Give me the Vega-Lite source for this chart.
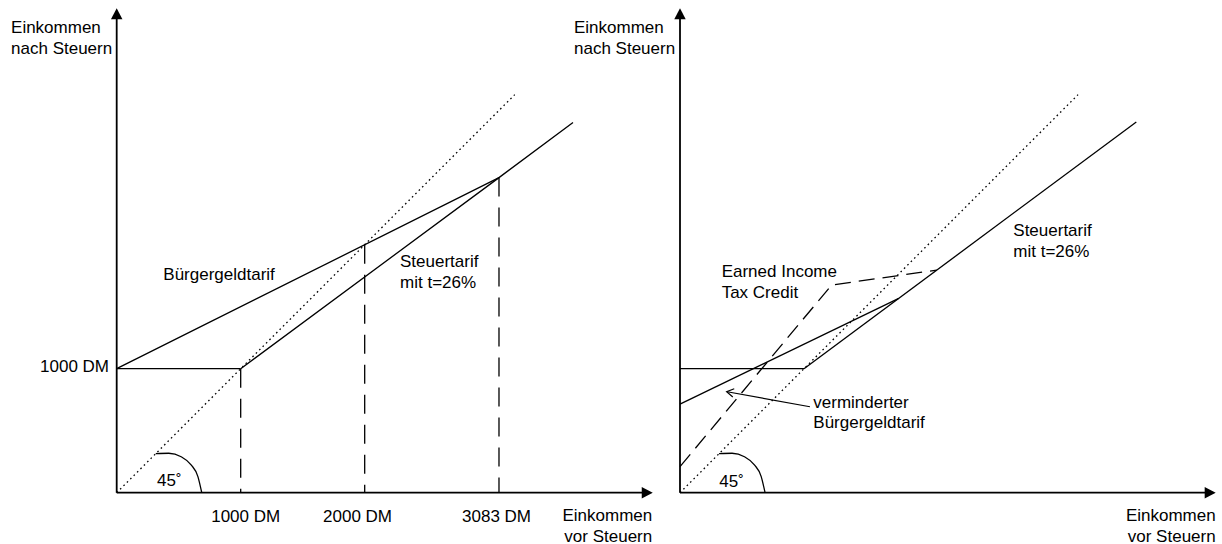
{
  "$schema": "https://vega.github.io/schema/vega-lite/v6.json",
  "padding": 0,
  "spacing": 0,
  "bounds": "flush",
  "background": "white",
  "config": {"view": {"stroke": null}},
  "datasets": {
    "segs": [
      {"panel": "L", "id": "L_ax", "style": "axis", "ord": 0, "x": 0, "y": 0},
      {"panel": "L", "id": "L_ax", "style": "axis", "ord": 1, "x": 4300, "y": 0},
      {"panel": "L", "id": "L_ay", "style": "axis", "ord": 0, "x": 0, "y": 0},
      {"panel": "L", "id": "L_ay", "style": "axis", "ord": 1, "x": 0, "y": 3880},
      {"panel": "L", "id": "L_h", "style": "solid", "ord": 0, "x": 0, "y": 1000},
      {"panel": "L", "id": "L_h", "style": "solid", "ord": 1, "x": 1000, "y": 1000},
      {"panel": "L", "id": "L_bg", "style": "solid", "ord": 0, "x": 0, "y": 1000},
      {"panel": "L", "id": "L_bg", "style": "solid", "ord": 1, "x": 3083, "y": 2541},
      {"panel": "L", "id": "L_st", "style": "solid", "ord": 0, "x": 1000, "y": 1000},
      {"panel": "L", "id": "L_st", "style": "solid", "ord": 1, "x": 3083, "y": 2541},
      {"panel": "L", "id": "L_st", "style": "solid", "ord": 2, "x": 3680, "y": 2985},
      {"panel": "L", "id": "L_45", "style": "dotted", "ord": 0, "x": 0, "y": 0},
      {"panel": "L", "id": "L_45", "style": "dotted", "ord": 1, "x": 3210, "y": 3210},
      {"panel": "L", "id": "L_v1", "style": "dashed", "ord": 0, "x": 1000, "y": 1000},
      {"panel": "L", "id": "L_v1", "style": "dashed", "ord": 1, "x": 1000, "y": 0},
      {"panel": "L", "id": "L_v2", "style": "dashed", "ord": 0, "x": 2000, "y": 2000},
      {"panel": "L", "id": "L_v2", "style": "dashed", "ord": 1, "x": 2000, "y": 0},
      {"panel": "L", "id": "L_v3", "style": "dashed", "ord": 0, "x": 3083, "y": 2541},
      {"panel": "L", "id": "L_v3", "style": "dashed", "ord": 1, "x": 3083, "y": 0},
      {"panel": "L", "id": "L_arc", "style": "arc", "ord": 0, "x": 315, "y": 315},
      {"panel": "L", "id": "L_arc", "style": "arc", "ord": 1, "x": 420, "y": 318},
      {"panel": "L", "id": "L_arc", "style": "arc", "ord": 2, "x": 520, "y": 290},
      {"panel": "L", "id": "L_arc", "style": "arc", "ord": 3, "x": 600, "y": 225},
      {"panel": "L", "id": "L_arc", "style": "arc", "ord": 4, "x": 655, "y": 130},
      {"panel": "L", "id": "L_arc", "style": "arc", "ord": 5, "x": 686, "y": 0},
      {"panel": "R", "id": "R_ax", "style": "axis", "ord": 0, "x": 0, "y": 0},
      {"panel": "R", "id": "R_ax", "style": "axis", "ord": 1, "x": 4300, "y": 0},
      {"panel": "R", "id": "R_ay", "style": "axis", "ord": 0, "x": 0, "y": 0},
      {"panel": "R", "id": "R_ay", "style": "axis", "ord": 1, "x": 0, "y": 3880},
      {"panel": "R", "id": "R_h", "style": "solid", "ord": 0, "x": 0, "y": 1000},
      {"panel": "R", "id": "R_h", "style": "solid", "ord": 1, "x": 1000, "y": 1000},
      {"panel": "R", "id": "R_st", "style": "solid", "ord": 0, "x": 1000, "y": 1000},
      {"panel": "R", "id": "R_st", "style": "solid", "ord": 1, "x": 3680, "y": 2990},
      {"panel": "R", "id": "R_vb", "style": "solid", "ord": 0, "x": 0, "y": 715},
      {"panel": "R", "id": "R_vb", "style": "solid", "ord": 1, "x": 1760, "y": 1565},
      {"panel": "R", "id": "R_arrow", "style": "thin", "ord": 0, "x": 1048, "y": 693},
      {"panel": "R", "id": "R_arrow", "style": "thin", "ord": 1, "x": 380, "y": 814},
      {"panel": "R", "id": "R_45", "style": "dotted", "ord": 0, "x": 0, "y": 0},
      {"panel": "R", "id": "R_45", "style": "dotted", "ord": 1, "x": 3210, "y": 3210},
      {"panel": "R", "id": "R_eitc", "style": "eitc", "ord": 0, "x": 0, "y": 210},
      {"panel": "R", "id": "R_eitc", "style": "eitc", "ord": 1, "x": 1223, "y": 1675},
      {"panel": "R", "id": "R_eitc", "style": "eitc", "ord": 2, "x": 2070, "y": 1795},
      {"panel": "R", "id": "R_arc", "style": "arc", "ord": 0, "x": 315, "y": 315},
      {"panel": "R", "id": "R_arc", "style": "arc", "ord": 1, "x": 420, "y": 318},
      {"panel": "R", "id": "R_arc", "style": "arc", "ord": 2, "x": 520, "y": 290},
      {"panel": "R", "id": "R_arc", "style": "arc", "ord": 3, "x": 600, "y": 225},
      {"panel": "R", "id": "R_arc", "style": "arc", "ord": 4, "x": 655, "y": 130},
      {"panel": "R", "id": "R_arc", "style": "arc", "ord": 5, "x": 686, "y": 0}
    ],
    "heads": [
      {"panel": "L", "kind": "up", "x": 0, "y": 3906},
      {"panel": "L", "kind": "right", "x": 4323, "y": 0},
      {"panel": "R", "kind": "up", "x": 0, "y": 3906},
      {"panel": "R", "kind": "right", "x": 4320, "y": 0},
      {"panel": "R", "kind": "vee", "x": 376, "y": 815}
    ],
    "labels": [
      {"panel": "L", "align": "left", "x": -852, "y": 3705, "text": "Einkommen\nnach Steuern"},
      {"panel": "L", "align": "right", "x": -62, "y": 973, "text": "1000 DM"},
      {"panel": "L", "align": "center", "x": 1040, "y": -234, "text": "1000 DM"},
      {"panel": "L", "align": "center", "x": 1942, "y": -234, "text": "2000 DM"},
      {"panel": "L", "align": "center", "x": 3063, "y": -234, "text": "3083 DM"},
      {"panel": "L", "align": "left", "x": 376, "y": 1715, "text": "Bürgergeldtarif"},
      {"panel": "L", "align": "left", "x": 2285, "y": 1818, "text": "Steuertarif\nmit t=26%"},
      {"panel": "L", "align": "right", "x": 4319, "y": -232, "text": "Einkommen\nvor Steuern"},
      {"panel": "L", "align": "left", "x": 325, "y": 54, "text": "45˚"},
      {"panel": "R", "align": "left", "x": -855, "y": 3705, "text": "Einkommen\nnach Steuern"},
      {"panel": "R", "align": "left", "x": 2688, "y": 2070, "text": "Steuertarif\nmit t=26%"},
      {"panel": "R", "align": "left", "x": 336, "y": 1737, "text": "Earned Income\nTax Credit"},
      {"panel": "R", "align": "left", "x": 1075, "y": 685, "text": "verminderter\nBürgergeldtarif"},
      {"panel": "R", "align": "left", "x": 317, "y": 48, "text": "45˚"},
      {"panel": "R", "align": "right", "x": 4320, "y": -232, "text": "Einkommen\nvor Steuern"}
    ]
  },
  "hconcat": [
    {
      "width": 660,
      "height": 544,
      "encoding": {
        "x": {"field": "x", "type": "quantitative", "scale": {"domain": [-941.1, 4381.5], "nice": false, "zero": false}, "axis": null},
        "y": {"field": "y", "type": "quantitative", "scale": {"domain": [-413.7, 3973.4], "nice": false, "zero": false}, "axis": null}
      },
      "layer": [
        {"data": {"name": "segs"}, "transform": [{"filter": "datum.panel == 'L' && datum.style == 'axis'"}], "mark": {"type": "line", "color": "black", "strokeWidth": 1.8}, "encoding": {"detail": {"field": "id"}, "order": {"field": "ord"}}},
        {"data": {"name": "segs"}, "transform": [{"filter": "datum.panel == 'L' && datum.style == 'solid'"}], "mark": {"type": "line", "color": "black", "strokeWidth": 1.3}, "encoding": {"detail": {"field": "id"}, "order": {"field": "ord"}}},
        {"data": {"name": "segs"}, "transform": [{"filter": "datum.panel == 'L' && datum.style == 'dotted'"}], "mark": {"type": "line", "color": "black", "strokeWidth": 1.3, "strokeDash": [1.6, 3.2]}, "encoding": {"detail": {"field": "id"}, "order": {"field": "ord"}}},
        {"data": {"name": "segs"}, "transform": [{"filter": "datum.panel == 'L' && datum.style == 'dashed'"}], "mark": {"type": "line", "color": "black", "strokeWidth": 1.3, "strokeDash": [19, 11]}, "encoding": {"detail": {"field": "id"}, "order": {"field": "ord"}}},
        {"data": {"name": "segs"}, "transform": [{"filter": "datum.panel == 'L' && datum.style == 'arc'"}], "mark": {"type": "line", "color": "black", "strokeWidth": 1.3, "interpolate": "monotone"}, "encoding": {"detail": {"field": "id"}, "order": {"field": "ord"}}},
        {"data": {"name": "heads"}, "transform": [{"filter": "datum.panel == 'L' && datum.kind == 'up'"}], "mark": {"type": "point", "shape": "M0,0L-0.52,1L0.52,1Z", "size": 484, "filled": true, "opacity": 1, "color": "black", "strokeWidth": 0}},
        {"data": {"name": "heads"}, "transform": [{"filter": "datum.panel == 'L' && datum.kind == 'right'"}], "mark": {"type": "point", "shape": "M0,0L-1,-0.52L-1,0.52Z", "size": 484, "filled": true, "opacity": 1, "color": "black", "strokeWidth": 0}},
        {"data": {"name": "labels"}, "transform": [{"filter": "datum.panel == 'L' && datum.align == 'left'"}], "mark": {"type": "text", "align": "left", "baseline": "alphabetic", "font": "Liberation Sans", "fontSize": 17, "lineHeight": 20.5, "lineBreak": "\n", "color": "black"}, "encoding": {"text": {"field": "text"}}},
        {"data": {"name": "labels"}, "transform": [{"filter": "datum.panel == 'L' && datum.align == 'right'"}], "mark": {"type": "text", "align": "right", "baseline": "alphabetic", "font": "Liberation Sans", "fontSize": 17, "lineHeight": 20.5, "lineBreak": "\n", "color": "black"}, "encoding": {"text": {"field": "text"}}},
        {"data": {"name": "labels"}, "transform": [{"filter": "datum.panel == 'L' && datum.align == 'center'"}], "mark": {"type": "text", "align": "center", "baseline": "alphabetic", "font": "Liberation Sans", "fontSize": 17, "lineHeight": 20.5, "lineBreak": "\n", "color": "black"}, "encoding": {"text": {"field": "text"}}}
      ]
    },
    {
      "width": 562,
      "height": 544,
      "encoding": {
        "x": {"field": "x", "type": "quantitative", "scale": {"domain": [-161.3, 4371.0], "nice": false, "zero": false}, "axis": null},
        "y": {"field": "y", "type": "quantitative", "scale": {"domain": [-413.7, 3973.4], "nice": false, "zero": false}, "axis": null}
      },
      "layer": [
        {"data": {"name": "segs"}, "transform": [{"filter": "datum.panel == 'R' && datum.style == 'axis'"}], "mark": {"type": "line", "color": "black", "strokeWidth": 1.8}, "encoding": {"detail": {"field": "id"}, "order": {"field": "ord"}}},
        {"data": {"name": "segs"}, "transform": [{"filter": "datum.panel == 'R' && datum.style == 'solid'"}], "mark": {"type": "line", "color": "black", "strokeWidth": 1.3}, "encoding": {"detail": {"field": "id"}, "order": {"field": "ord"}}},
        {"data": {"name": "segs"}, "transform": [{"filter": "datum.panel == 'R' && datum.style == 'thin'"}], "mark": {"type": "line", "color": "black", "strokeWidth": 1.2}, "encoding": {"detail": {"field": "id"}, "order": {"field": "ord"}}},
        {"data": {"name": "segs"}, "transform": [{"filter": "datum.panel == 'R' && datum.style == 'dotted'"}], "mark": {"type": "line", "color": "black", "strokeWidth": 1.3, "strokeDash": [1.6, 3.2]}, "encoding": {"detail": {"field": "id"}, "order": {"field": "ord"}}},
        {"data": {"name": "segs"}, "transform": [{"filter": "datum.panel == 'R' && datum.style == 'eitc'"}], "mark": {"type": "line", "color": "black", "strokeWidth": 1.3, "strokeDash": [16, 8]}, "encoding": {"detail": {"field": "id"}, "order": {"field": "ord"}}},
        {"data": {"name": "segs"}, "transform": [{"filter": "datum.panel == 'R' && datum.style == 'arc'"}], "mark": {"type": "line", "color": "black", "strokeWidth": 1.3, "interpolate": "monotone"}, "encoding": {"detail": {"field": "id"}, "order": {"field": "ord"}}},
        {"data": {"name": "heads"}, "transform": [{"filter": "datum.panel == 'R' && datum.kind == 'up'"}], "mark": {"type": "point", "shape": "M0,0L-0.52,1L0.52,1Z", "size": 484, "filled": true, "opacity": 1, "color": "black", "strokeWidth": 0}},
        {"data": {"name": "heads"}, "transform": [{"filter": "datum.panel == 'R' && datum.kind == 'right'"}], "mark": {"type": "point", "shape": "M0,0L-1,-0.52L-1,0.52Z", "size": 484, "filled": true, "opacity": 1, "color": "black", "strokeWidth": 0}},
        {"data": {"name": "heads"}, "transform": [{"filter": "datum.panel == 'R' && datum.kind == 'vee'"}], "mark": {"type": "point", "shape": "M-0.6,1L0,0L0.6,1", "size": 196, "filled": false, "opacity": 1, "color": "black", "strokeWidth": 1.2, "angle": 280}},
        {"data": {"name": "labels"}, "transform": [{"filter": "datum.panel == 'R' && datum.align == 'left'"}], "mark": {"type": "text", "align": "left", "baseline": "alphabetic", "font": "Liberation Sans", "fontSize": 17, "lineHeight": 20.5, "lineBreak": "\n", "color": "black"}, "encoding": {"text": {"field": "text"}}},
        {"data": {"name": "labels"}, "transform": [{"filter": "datum.panel == 'R' && datum.align == 'right'"}], "mark": {"type": "text", "align": "right", "baseline": "alphabetic", "font": "Liberation Sans", "fontSize": 17, "lineHeight": 20.5, "lineBreak": "\n", "color": "black"}, "encoding": {"text": {"field": "text"}}}
      ]
    }
  ]
}
